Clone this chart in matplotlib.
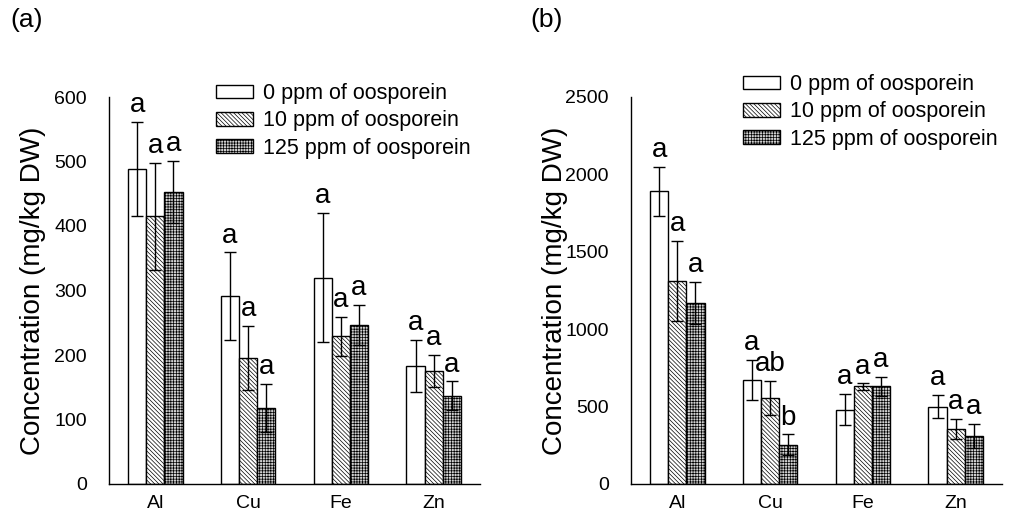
import matplotlib
matplotlib.use("Agg")
import matplotlib.pyplot as plt
import numpy as np

plt.rcParams['font.family'] = ['Liberation Sans', 'DejaVu Sans']
plt.rcParams['hatch.linewidth'] = 0.5

elements = ["Al", "Cu", "Fe", "Zn"]
series = ["0 ppm of oosporein", "10 ppm of oosporein", "125 ppm of oosporein"]

a_means = [[488, 291, 320, 183], [415, 195, 229, 175], [453, 118, 246, 137]]
a_errs = [[73, 68, 100, 41], [83, 50, 30, 25], [48, 37, 31, 22]]
a_letters = [["a", "a", "a", "a"], ["a", "a", "a", "a"], ["a", "a", "a", "a"]]

b_means = [[1890, 670, 480, 500], [1310, 555, 630, 355], [1170, 255, 630, 310]]
b_errs = [[160, 130, 100, 75], [260, 110, 20, 65], [135, 65, 60, 80]]
b_letters = [["a", "a", "a", "a"], ["a", "ab", "a", "a"], ["a", "b", "a", "a"]]

styles = [dict(facecolor="white", hatch=None),
          dict(facecolor="white", hatch="\\\\\\\\\\\\\\\\"),
          dict(facecolor="#d0d0d0", hatch="++++++")]

fig = plt.figure(figsize=(10.18, 5.16), dpi=100)
W, H = 1018, 516
axa = fig.add_axes([109 / W, 32 / H, 371 / W, 387 / H])
axb = fig.add_axes([631 / W, 32 / H, 371 / W, 387 / H])


def draw(ax, means, errs, letters, ymax, step, legend_anchor, letter_pad):
    x = np.arange(len(elements))
    bw = 0.195
    for i in range(3):
        pos = x + (i - 1) * bw
        ax.bar(pos, means[i], bw, edgecolor="black", linewidth=1.0,
               label=series[i], **styles[i])
        ax.errorbar(pos, means[i], yerr=errs[i], fmt="none", ecolor="black",
                    elinewidth=1.0, capsize=4, capthick=1.0)
        for p, m, e, t in zip(pos, means[i], errs[i], letters[i]):
            ax.text(p, m + e + letter_pad, t, ha="center", va="bottom",
                    fontsize=20, clip_on=False)
    ax.set_xlim(-0.5, len(elements) - 0.5)
    ax.set_ylim(0, ymax)
    ax.set_yticks(np.arange(0, ymax + 1, step))
    ax.set_xticks(x)
    ax.set_xticklabels(elements)
    ax.tick_params(axis="y", length=0, labelsize=14, pad=16)
    ax.tick_params(axis="x", length=0, labelsize=14, pad=8)
    for s in ["top", "right"]:
        ax.spines[s].set_visible(False)
    ax.spines["left"].set_linewidth(1.0)
    ax.spines["bottom"].set_linewidth(1.0)
    ax.set_ylabel("Concentration (mg/kg DW)", fontsize=20)
    ax.yaxis.set_label_coords(-0.17, 0.5)
    ax.legend(loc="upper left", bbox_to_anchor=legend_anchor,
              bbox_transform=fig.transFigure, frameon=False, fontsize=15.5,
              handlelength=1.7, handleheight=0.6, handletextpad=0.5,
              labelspacing=0.3, borderaxespad=0, borderpad=0)


draw(axa, a_means, a_errs, a_letters, 600, 100, (216 / W, 1 - 83 / H), 6)
draw(axb, b_means, b_errs, b_letters, 2500, 500, (743 / W, 1 - 74 / H), 25)

fig.text(10 / W, 1 - 8 / H, "(a)", fontsize=19, va="top", ha="left")
fig.text(530 / W, 1 - 8 / H, "(b)", fontsize=19, va="top", ha="left")

fig.savefig("out.png", dpi=100)
